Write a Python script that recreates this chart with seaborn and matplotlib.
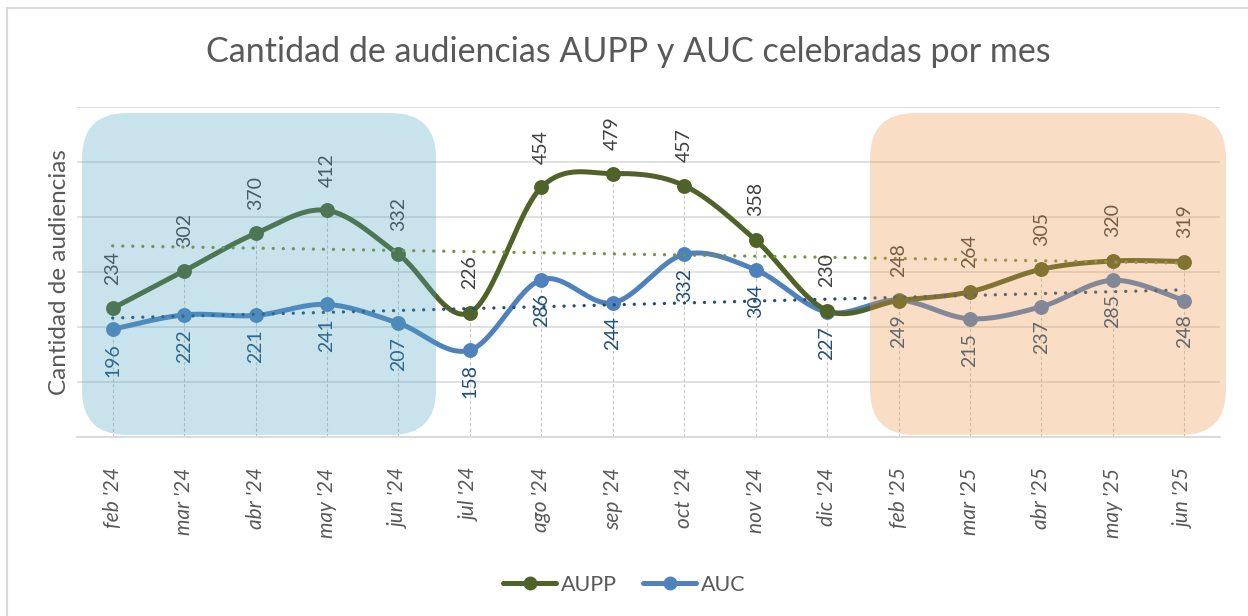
import numpy as np
import pandas as pd
import matplotlib
matplotlib.use("Agg")
import matplotlib.pyplot as plt
import seaborn as sns
from matplotlib.patches import FancyBboxPatch
from matplotlib.lines import Line2D

# ---------------- data ----------------
months = ["feb '24", "mar '24", "abr '24", "may '24", "jun '24", "jul '24", "ago '24",
          "sep '24", "oct '24", "nov '24", "dic '24", "feb '25", "mar '25", "abr '25",
          "may '25", "jun '25"]
aupp = [234, 302, 370, 412, 332, 226, 454, 479, 457, 358, 230, 248, 264, 305, 320, 319]
auc = [196, 222, 221, 241, 207, 158, 286, 244, 332, 304, 227, 249, 215, 237, 285, 248]

title = "Cantidad de audiencias AUPP y AUC celebradas por mes"
ylabel = "Cantidad de audiencias"

sns.set_theme(style="white")
plt.rcParams['font.family'] = ['Lato', 'DejaVu Sans']

C_AUPP = "#4F6228"
C_AUC = "#4F81BD"
C_TXT = "#595959"

df = pd.DataFrame({"x": np.arange(len(months)), "AUPP": aupp, "AUC": auc})

fig = plt.figure(figsize=(12.48, 6.16), dpi=100)
ax = fig.add_axes([77/1248, 1-437/616, 1143/1248, 330/616])


def smooth(x, y, n=30):
    """Catmull-Rom style smoothing (like Excel's smoothed line)."""
    x = np.asarray(x, float); y = np.asarray(y, float)
    P = np.column_stack([x, y])
    P = np.vstack([P[0], P, P[-1]])
    out = []
    t = np.linspace(0, 1, n)
    for i in range(1, len(P) - 2):
        p0, p1, p2, p3 = P[i-1], P[i], P[i+1], P[i+2]
        b1 = p1 + (p2 - p0) / 6
        b2 = p2 - (p3 - p1) / 6
        seg = ((1-t)**3)[:, None]*p1 + (3*(1-t)**2*t)[:, None]*b1 + \
              (3*(1-t)*t**2)[:, None]*b2 + (t**3)[:, None]*p2
        out.append(seg if i == 1 else seg[1:])
    s = np.vstack(out)
    return s[:, 0], s[:, 1]


# gridlines
ax.set_ylim(0, 600)
ax.set_xlim(-0.5, len(months) - 0.5)
ax.set_yticks(np.arange(0, 601, 100))
ax.yaxis.grid(True, color="#D9D9D9", lw=1.1)
ax.set_axisbelow(True)
ax.set_yticklabels([])
ax.tick_params(axis='y', length=0)

# drop lines
for xi, (a, b) in enumerate(zip(aupp, auc)):
    ax.plot([xi, xi], [0, max(a, b)], color="#C8C8C8", lw=0.8,
            linestyle=(0, (3, 2)), zorder=1)

# smoothed lines
for col, c in [("AUC", C_AUC), ("AUPP", C_AUPP)]:
    sx, sy = smooth(df["x"], df[col])
    sns.lineplot(x=sx, y=sy, color=c, lw=3.6, ax=ax, sort=False, zorder=3,
                 estimator=None)
    sns.scatterplot(x=df["x"], y=df[col], color=c, s=115, ax=ax, zorder=4,
                    edgecolor=c, linewidth=0)

# trend lines
sns.regplot(x=df["x"], y=df["AUPP"], scatter=False, ci=None, ax=ax,
            line_kws=dict(color="#77933C", lw=2.4, linestyle=(0, (0.01, 3.0)),
                          dash_capstyle='round', zorder=5))
sns.regplot(x=df["x"], y=df["AUC"], scatter=False, ci=None, ax=ax,
            line_kws=dict(color="#1F4E79", lw=2.4, linestyle=(0, (0.01, 3.0)),
                          dash_capstyle='round', zorder=5))

# data labels
for xi, (a, b) in enumerate(zip(aupp, auc)):
    ax.annotate(str(a), (xi, a), xytext=(0, 17), textcoords="offset points",
                rotation=90, ha="center", va="bottom", fontsize=14,
                color="#404040", zorder=6)
    ax.annotate(str(b), (xi, b), xytext=(0, -10), textcoords="offset points",
                rotation=90, ha="center", va="top", fontsize=14,
                color="#1F4E79", zorder=6)

# highlight boxes (overlaid)
aspect = 1143/330
r = 45/1143
for (x0, x1, col, al) in [((82-77)/1143, (436-77)/1143, "#4BA5C0", 0.30),
                          ((870-77)/1143, (1226-77)/1143, "#EF984A", 0.32)]:
    y0, y1 = (437-435)/330, (437-113)/330
    p = FancyBboxPatch((x0, y0), x1-x0, y1-y0,
                       boxstyle=f"round,pad=0,rounding_size={r}",
                       mutation_aspect=aspect, transform=ax.transAxes,
                       facecolor=col, edgecolor="none", alpha=al, zorder=10,
                       clip_on=False)
    ax.add_patch(p)

# axes styling
for s in ["left", "right", "top"]:
    ax.spines[s].set_visible(False)
ax.spines["bottom"].set_color("#D9D9D9")
ax.spines["bottom"].set_linewidth(1.3)
ax.set_xticks(df["x"])
ax.set_xticklabels(months, rotation=90, fontstyle="italic", fontsize=15,
                   color=C_TXT)
ax.tick_params(axis='x', length=0, pad=22)
ax.set_xlabel("")
ax.set_ylabel("")

fig.text(60/1248, 1-272/616, ylabel, rotation=90, ha="center", va="center",
         fontsize=17.5, color=C_TXT)
fig.text(628/1248, 1-52/616, title, ha="center", va="center", fontsize=24.5,
         color=C_TXT)

handles = [Line2D([], [], color=C_AUPP, lw=3.6, marker="o", markersize=9),
           Line2D([], [], color=C_AUC, lw=3.6, marker="o", markersize=9)]
fig.legend(handles, ["AUPP", "AUC"], loc="center", bbox_to_anchor=(0.5, 1-585/616),
           ncol=2, frameon=False, fontsize=15.5, labelcolor=C_TXT,
           handlelength=2.5, handletextpad=0.2, columnspacing=1.2)

# figure border (left/top)
fig.add_artist(Line2D([7/1248, 7/1248], [0, 1-8/616], color="#D9D9D9", lw=1.5,
                      transform=fig.transFigure))
fig.add_artist(Line2D([7/1248, 1], [1-8/616, 1-8/616], color="#D9D9D9", lw=1.5,
                      transform=fig.transFigure))

fig.savefig("out.png", dpi=100)
